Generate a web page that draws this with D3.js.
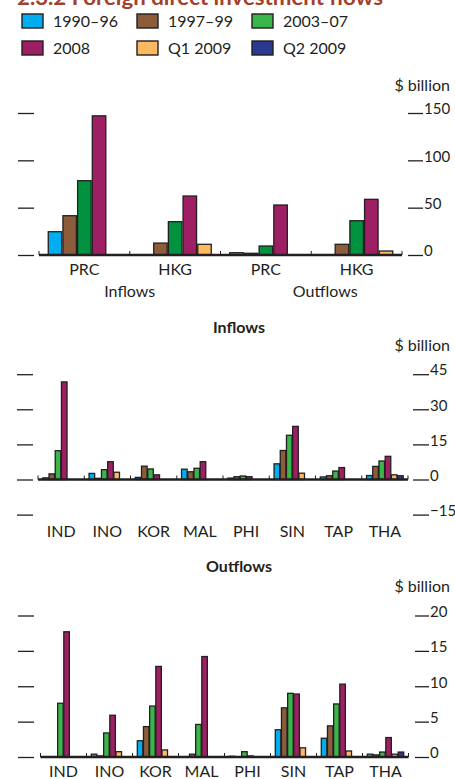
<!DOCTYPE html>
<html>
<head>
<meta charset="utf-8">
<script src="https://cdn.jsdelivr.net/npm/d3@7"></script>
<style>
  body { margin: 0; background: #fff; }
  text { font-family: Lato, "Open Sans", sans-serif; fill: #231f20; }
</style>
</head>
<body>
<div id="chart"></div>
<script>
// series names
var seriesNames = ["1990–96", "1997–99", "2003–07", "2008", "Q1 2009", "Q2 2009"];

// PRC and HKG panel (no Q2 2009 bars here)
var topGroups = ["PRC", "HKG", "PRC", "HKG"];
var topFlowLabels = ["Inflows", "Outflows"];
var top1990_96 = [24.6, null, 2.4, null];
var top1997_99 = [41.5, 12.6, 1.8, 11.3];
var top2003_07 = [78.5, 35.2, 9.5, 36.2];
var top2008 = [147.0, 62.3, 52.8, 58.8];
var topQ1_2009 = [null, 11.3, null, 4.2];
var topTicks = [0, 50, 100, 150];

// other economies
var economies = ["IND", "INO", "KOR", "MAL", "PHI", "SIN", "TAP", "THA"];

var in1990_96 = [0.7, 2.6, 0.9, 4.4, 0.6, 6.7, 1.1, 1.7];
var in1997_99 = [2.4, 0.5, 5.7, 3.3, 1.2, 12.4, 1.6, 5.6];
var in2003_07 = [12.3, 4.2, 4.5, 4.8, 1.5, 18.9, 3.6, 7.9];
var in2008 = [41.7, 7.6, 2.0, 7.6, 1.2, 22.7, 5.1, 9.9];
var inQ1_2009 = [null, 3.1, null, null, null, 2.7, null, 2.0];
var inQ2_2009 = [null, null, null, null, null, null, null, 1.6];
var inTicks = [-15, 0, 15, 30, 45];

var out1990_96 = [null, 0.4, 2.3, null, 0.1, 3.85, 2.65, 0.4];
var out1997_99 = [null, 0.15, 4.3, 0.4, null, 6.95, 4.4, 0.3];
var out2003_07 = [7.6, 3.4, 7.2, 4.6, 0.75, 9.0, 7.5, 0.7];
var out2008 = [17.7, 5.9, 12.8, 14.2, 0.15, 8.9, 10.3, 2.75];
var outQ1_2009 = [null, 0.75, 1.0, null, null, 1.3, 0.85, 0.4];
var outQ2_2009 = [null, null, null, null, null, null, null, 0.7];
var outTicks = [0, 5, 10, 15, 20];

var legendColors = ["#00aeef", "#8b5d3b", "#39b54a", "#9e1f63", "#fdb962", "#2b3990"];
var topColors = ["#00aeef", "#8b5d3b", "#00923f", "#9e1f63", "#fdb962"];

var svg = d3.select("#chart")
    .append("svg")
        .attr("width", 455)
        .attr("height", 779);

// title (cut off at the top)
svg.append("text")
    .attr("x", 17)
    .attr("y", 5)
    .attr("textLength", 366)
    .attr("lengthAdjust", "spacingAndGlyphs")
    .style("font-size", "20px")
    .style("font-weight", "bold")
    .style("fill", "#a3402a")
    .text("2.3.2 Foreign direct investment flows");

// legend, 2 rows of 3
var legend = svg.append("g");
seriesNames.forEach(function (name, i) {
    var col = i % 3, row = Math.floor(i / 3);
    var g = legend.append("g")
        .attr("transform", "translate(" + (22 + col * 115) + "," + (14 + row * 27) + ")");
    g.append("rect")
        .attr("width", 21)
        .attr("height", 14)
        .attr("fill", legendColors[i])
        .attr("stroke", "#231f20")
        .attr("stroke-width", 1.4);
    g.append("text")
        .attr("x", 31)
        .attr("y", 13)
        .style("font-size", "16px")
        .text(name);
});

function drawPanel(o) {
    var g = svg.append("g");

    var x0 = d3.scaleBand()
        .domain(d3.range(o.groups.length))
        .range(o.xRange);

    var x1 = d3.scaleBand()
        .domain(d3.range(o.values.length))
        .range([o.groupPad, x0.bandwidth() - o.groupPad])
        .paddingInner(o.barPad);

    var y = d3.scaleLinear()
        .domain(o.yDomain)
        .range(o.yRange);

    // bars
    o.values.forEach(function (vals, s) {
        g.append("g")
            .selectAll("rect")
            .data(vals.map(function (v, i) { return { g: i, v: v }; })
                .filter(function (d) { return d.v !== null; }))
            .join("rect")
                .attr("x", function (d) { return x0(d.g) + x1(s); })
                .attr("y", function (d) { return y(Math.max(0, d.v)); })
                .attr("width", x1.bandwidth())
                .attr("height", function (d) { return Math.abs(y(d.v) - y(0)); })
                .attr("fill", o.colors[s])
                .attr("stroke", "#231f20")
                .attr("stroke-width", 1.3);
    });

    // zero line + small ticks between groups
    g.append("line")
        .attr("x1", o.xRange[0])
        .attr("x2", o.xRange[1])
        .attr("y1", y(0))
        .attr("y2", y(0))
        .attr("stroke", "#231f20")
        .attr("stroke-width", 2.4);

    g.append("g")
        .selectAll("line")
        .data(d3.range(o.groups.length + 1))
        .join("line")
            .attr("x1", function (i) { return i < o.groups.length ? x0(i) : o.xRange[1]; })
            .attr("x2", function (i) { return i < o.groups.length ? x0(i) : o.xRange[1]; })
            .attr("y1", y(0))
            .attr("y2", y(0) - 4)
            .attr("stroke", "#231f20")
            .attr("stroke-width", 1);

    // group labels
    g.append("g")
        .selectAll("text")
        .data(o.groups)
        .join("text")
            .attr("x", function (d, i) { return x0(i) + x0.bandwidth() / 2; })
            .attr("y", o.labelY)
            .attr("text-anchor", "middle")
            .style("font-size", "16px")
            .text(function (d) { return d; });

    // left ticks, no labels
    var leftAxis = g.append("g")
        .attr("transform", "translate(" + o.leftX[1] + ",0)")
        .call(d3.axisLeft(y).tickValues(o.ticks).tickSize(o.leftX[1] - o.leftX[0]).tickFormat(""));
    leftAxis.select(".domain").remove();
    leftAxis.selectAll("line").attr("stroke", "#231f20").attr("stroke-width", 1.3);

    // right ticks with labels sitting on the line
    var rightAxis = g.append("g")
        .attr("transform", "translate(" + o.rightX[0] + ",0)")
        .call(d3.axisRight(y).tickValues(o.ticks).tickSize(o.rightX[1] - o.rightX[0]).tickPadding(1));
    rightAxis.select(".domain").remove();
    rightAxis.selectAll("line").attr("stroke", "#231f20").attr("stroke-width", 1.3);
    rightAxis.selectAll("text")
        .attr("dy", "0.05em")
        .style("font-size", "15px")
        .style("font-family", "Lato, 'Open Sans', sans-serif")
        .style("fill", "#231f20");

    g.append("text")
        .attr("x", 450)
        .attr("y", o.unitY)
        .attr("text-anchor", "end")
        .style("font-size", "16px")
        .text("$ billion");

    if (o.title) {
        g.append("text")
            .attr("x", 239)
            .attr("y", o.titleY)
            .attr("text-anchor", "middle")
            .style("font-size", "16px")
            .style("font-weight", "bold")
            .text(o.title);
    }
    return { x0: x0, g: g };
}

// panel 1: PRC and HKG
var p1 = drawPanel({
    groups: topGroups,
    values: [top1990_96, top1997_99, top2003_07, top2008, topQ1_2009],
    colors: topColors,
    xRange: [39, 402],
    groupPad: 9.25,
    barPad: 0.08,
    yDomain: [0, 150],
    yRange: [255, 113],
    ticks: topTicks,
    leftX: [18, 34],
    rightX: [408, 423],
    labelY: 275,
    unitY: 91
});
// Inflows / Outflows under the pairs
p1.g.append("text")
    .attr("x", p1.x0(1))
    .attr("y", 297)
    .attr("text-anchor", "middle")
    .style("font-size", "16px")
    .text(topFlowLabels[0]);
p1.g.append("text")
    .attr("x", p1.x0(3) + 14)
    .attr("y", 297)
    .attr("text-anchor", "middle")
    .style("font-size", "16px")
    .text(topFlowLabels[1]);

// panel 2: inflows
drawPanel({
    groups: economies,
    values: [in1990_96, in1997_99, in2003_07, in2008, inQ1_2009, inQ2_2009],
    colors: legendColors,
    xRange: [38, 408],
    groupPad: 4.8,
    barPad: 0.1,
    yDomain: [-15, 45],
    yRange: [514.6, 374.2],
    ticks: inTicks,
    leftX: [17, 33],
    rightX: [413, 429],
    labelY: 536.5,
    unitY: 351,
    title: "Inflows",
    titleY: 333
});

// panel 3: outflows
drawPanel({
    groups: economies,
    values: [out1990_96, out1997_99, out2003_07, out2008, outQ1_2009, outQ2_2009],
    colors: legendColors,
    xRange: [40.5, 408.5],
    groupPad: 4.8,
    barPad: 0.1,
    yDomain: [0, 20],
    yRange: [757, 615.5],
    ticks: outTicks,
    leftX: [18, 34],
    rightX: [415, 429],
    labelY: 777,
    unitY: 592,
    title: "Outflows",
    titleY: 572
});
</script>
</body>
</html>
